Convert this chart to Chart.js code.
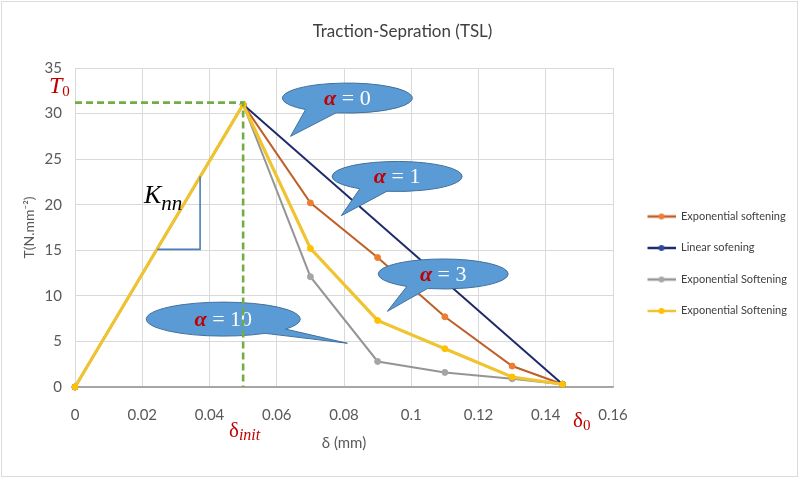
<!DOCTYPE html>
<html>
<head>
<meta charset="utf-8">
<script src="https://cdn.jsdelivr.net/npm/chart.js@4.4.1/dist/chart.umd.min.js"></script>
<style>
  html, body { margin: 0; padding: 0; background: #fff; }
  #wrap { width: 805px; height: 480px; }
</style>
</head>
<body>
<div id="wrap"><canvas id="tsl" width="805" height="480"></canvas></div>
<script>
// ---------------- datos ----------------
const deltaSoft = [0, 0.05, 0.07, 0.09, 0.11, 0.13, 0.145]
const deltaLin = [0, 0.05, 0.145]

const tAlpha1 = [0, 31, 20.2, 14.2, 7.7, 2.3, 0.3]
const tLinear = [0, 31, 0.3]
const tAlpha10 = [0, 31, 12.1, 2.8, 1.6, 0.9, 0.3]
const tAlpha3 = [0, 31, 15.2, 7.3, 4.2, 1.1, 0.3]

const seriesNames = ['Exponential softening', 'Linear sofening', 'Exponential Softening', 'Exponential Softening']

const xTicks = [0, 0.02, 0.04, 0.06, 0.08, 0.1, 0.12, 0.14, 0.16]
const xTickLabels = ['0', '0.02', '0.04', '0.06', '0.08', '0.1', '0.12', '0.14', '0.16']
const yTicks = [0, 5, 10, 15, 20, 25, 30, 35]

// lineas guia (T0 / delta init) y triangulo de la pendiente Knn
const guideX = [0, 0.05, 0.05]
const guideY = [31.2, 31.2, 0]
const knnX = [0.0245, 0.0372, 0.0372]
const knnY = [15.1, 15.1, 23.1]

// ---------------- helpers ----------------
const toPoints = (xs, ys) => xs.map((x, i) => ({ x: x, y: ys[i] }))

const RED = '#C00000'
const serif = '"Liberation Serif", "DejaVu Serif", serif'

function serie(label, xs, ys, line, dot, width, order) {
  return {
    label: label,
    data: toPoints(xs, ys),
    borderColor: line,
    backgroundColor: dot,
    pointBackgroundColor: dot,
    pointBorderColor: dot,
    pointRadius: 3,
    pointBorderWidth: 1,
    borderWidth: width,
    tension: 0,
    order: order,
    clip: 8
  }
}

// icono de leyenda: linea con un punto en medio
function legendIcon(line, dot) {
  const c = document.createElement('canvas')
  c.width = 42
  c.height = 10
  const g = c.getContext('2d')
  g.strokeStyle = line
  g.lineWidth = 2.5
  g.beginPath()
  g.moveTo(14, 5)
  g.lineTo(42, 5)
  g.stroke()
  g.fillStyle = dot
  g.beginPath()
  g.arc(28, 5, 3, 0, Math.PI * 2)
  g.fill()
  return c
}

const colores = [
  { line: '#BF5F26', dot: '#ED7D31' },
  { line: '#1F2A6B', dot: '#2F4A9A' },
  { line: '#959595', dot: '#A5A5A5' },
  { line: '#F0C431', dot: '#FFC000' }
]
const icons = colores.map(c => legendIcon(c.line, c.dot))

// bocadillos "alpha = n" (centro y punta en unidades de datos)
const callouts = [
  { txt: '0', cx: 0.081, cy: 31.7, rx: 65, ry: 15, a1: 100, a2: 130, tx: 0.0641, ty: 27.5 },
  { txt: '1', cx: 0.0958, cy: 23.1, rx: 65, ry: 15, a1: 99, a2: 125, tx: 0.0792, ty: 18.8 },
  { txt: '3', cx: 0.1095, cy: 12.4, rx: 65, ry: 15, a1: 104, a2: 124, tx: 0.0929, ty: 8.3 },
  { txt: '10', cx: 0.0441, cy: 7.45, rx: 77, ry: 17, a1: 36, a2: 57, tx: 0.081, ty: 4.8 }
]

function drawCallout(ctx, c, xs, ys) {
  const cx = xs.getPixelForValue(c.cx)
  const cy = ys.getPixelForValue(c.cy)
  const tx = xs.getPixelForValue(c.tx)
  const ty = ys.getPixelForValue(c.ty)
  const rad = Math.PI / 180
  ctx.save()
  ctx.beginPath()
  ctx.ellipse(cx, cy, c.rx, c.ry, 0, c.a2 * rad, (c.a1 + 360) * rad)
  ctx.lineTo(tx, ty)
  ctx.closePath()
  ctx.fillStyle = '#5B9BD5'
  ctx.fill()
  ctx.strokeStyle = '#41719C'
  ctx.lineWidth = 1
  ctx.stroke()

  const fa = 'italic bold 22px ' + serif
  const fb = '22px ' + serif
  const rest = ' = ' + c.txt
  ctx.font = fa
  const wa = ctx.measureText('α').width
  ctx.font = fb
  const wb = ctx.measureText(rest).width
  let x = cx - (wa + wb) / 2
  ctx.textBaseline = 'middle'
  ctx.textAlign = 'left'
  ctx.font = fa
  ctx.fillStyle = RED
  ctx.fillText('α', x, cy + 1)
  ctx.font = fb
  ctx.fillStyle = '#FFFFFF'
  ctx.fillText(rest, x + wa, cy + 1)
  ctx.restore()
}

// texto con subindice
function subText(ctx, main, sub, x, y, mainFont, subFont, color, drop) {
  ctx.save()
  ctx.fillStyle = color
  ctx.textBaseline = 'alphabetic'
  ctx.textAlign = 'left'
  ctx.font = mainFont
  ctx.fillText(main, x, y)
  const w = ctx.measureText(main).width
  ctx.font = subFont
  ctx.fillText(sub, x + w, y + drop)
  ctx.restore()
}

const GUIDE = 5
const LEGEND_W = 192

const decoraciones = {
  id: 'decoraciones',
  beforeLayout(chart) {
    // fijo el ancho de la leyenda para que el area del grafico acabe en 0.16
    const lg = chart.legend
    if (lg && !lg._anchoFijo) {
      const fit = lg.fit.bind(lg)
      lg.fit = function () {
        fit()
        this.width = LEGEND_W
      }
      lg._anchoFijo = true
    }
  },
  beforeDraw(chart) {
    const ctx = chart.ctx
    ctx.save()
    ctx.fillStyle = '#FFFFFF'
    ctx.fillRect(0, 0, chart.width, chart.height)
    ctx.strokeStyle = '#DCDCDC'
    ctx.lineWidth = 1
    ctx.strokeRect(1.5, 1.5, 796, 475)
    ctx.restore()
  },
  beforeDatasetDraw(chart, args) {
    // los bocadillos quedan por encima de las series y debajo de las guias verdes
    if (args.index !== GUIDE) return
    const xs = chart.scales.x
    const ys = chart.scales.y
    for (const c of callouts) drawCallout(chart.ctx, c, xs, ys)
  },
  afterDraw(chart) {
    const ctx = chart.ctx
    subText(ctx, 'T', '0', 49, 93, 'italic 24px ' + serif, '15px ' + serif, RED, 3)
    subText(ctx, 'δ', 'init', 229, 437, '21px ' + serif, 'italic 16px ' + serif, RED, 3)
    subText(ctx, 'δ', '0', 573, 427, '21px ' + serif, '15px ' + serif, RED, 3)
    subText(ctx, 'K', 'nn', 144, 203, 'italic 26px ' + serif, 'italic 21px ' + serif, '#000000', 7)
  }
}

const baseLabels = Chart.defaults.plugins.legend.labels.generateLabels

const tickFont = { family: 'Lato', size: 15 }

new Chart(document.getElementById('tsl'), {
  type: 'line',
  data: {
    datasets: [
      serie(seriesNames[0], deltaSoft, tAlpha1, colores[0].line, colores[0].dot, 2, 5),
      serie(seriesNames[1], deltaLin, tLinear, colores[1].line, colores[1].dot, 2, 4),
      serie(seriesNames[2], deltaSoft, tAlpha10, colores[2].line, colores[2].dot, 2, 3),
      serie(seriesNames[3], deltaSoft, tAlpha3, colores[3].line, colores[3].dot, 3.2, 2),
      {
        label: 'knn',
        data: toPoints(knnX, knnY),
        borderColor: '#4A7EBB',
        borderWidth: 1.6,
        pointRadius: 0,
        order: 1
      },
      {
        label: 'guia',
        data: toPoints(guideX, guideY),
        borderColor: '#70AD47',
        borderWidth: 2.6,
        borderDash: [7, 4],
        pointRadius: 0,
        order: 0,
        clip: 8
      }
    ]
  },
  options: {
    responsive: false,
    animation: false,
    events: [],
    layout: { padding: 0 },
    plugins: {
      tooltip: { enabled: false },
      title: {
        display: true,
        text: 'Traction-Sepration (TSL)',
        color: '#404040',
        font: { family: 'Lato', size: 17, weight: 'normal' },
        padding: { top: 21.5, bottom: 26.1 }
      },
      legend: {
        position: 'right',
        title: { display: true, text: ' ', font: { size: 12 }, padding: 16.5 },
        labels: {
          usePointStyle: true,
          pointStyleWidth: 42,
          padding: 20.5,
          color: '#404040',
          font: { family: 'Lato', size: 11 },
          filter: item => item.datasetIndex < 4,
          sort: (a, b) => a.datasetIndex - b.datasetIndex,
          generateLabels: chart => baseLabels(chart).map(item => {
            item.pointStyle = icons[item.datasetIndex] || item.pointStyle
            return item
          })
        }
      }
    },
    scales: {
      x: {
        type: 'linear',
        min: 0,
        max: 0.16,
        afterBuildTicks: s => { s.ticks = xTicks.map(v => ({ value: v })) },
        afterFit: s => { s.height = 93 },
        ticks: {
          padding: 19,
          color: '#595959',
          font: tickFont,
          callback: (v, i) => xTickLabels[i]
        },
        grid: { color: '#D9D9D9', drawTicks: false },
        border: { color: '#A6A6A6', width: 1.5 },
        title: {
          display: true,
          text: 'δ (mm)',
          color: '#595959',
          font: { family: 'Lato', size: 15 },
          padding: { top: 0, bottom: 28 }
        }
      },
      y: {
        min: 0,
        max: 35,
        afterBuildTicks: s => { s.ticks = yTicks.map(v => ({ value: v })) },
        afterFit: s => { s.width = 75 },
        ticks: { padding: 13, color: '#595959', font: tickFont },
        grid: {
          color: c => (c.tick && c.tick.value === 0 ? '#A6A6A6' : '#D9D9D9'),
          drawTicks: false
        },
        border: { color: '#D9D9D9' },
        title: {
          display: true,
          text: 'T(N.mm⁻²)',
          color: '#595959',
          font: { family: 'Lato', size: 14 },
          padding: { top: 21, bottom: 0 }
        }
      }
    }
  },
  plugins: [decoraciones]
})
</script>
</body>
</html>
